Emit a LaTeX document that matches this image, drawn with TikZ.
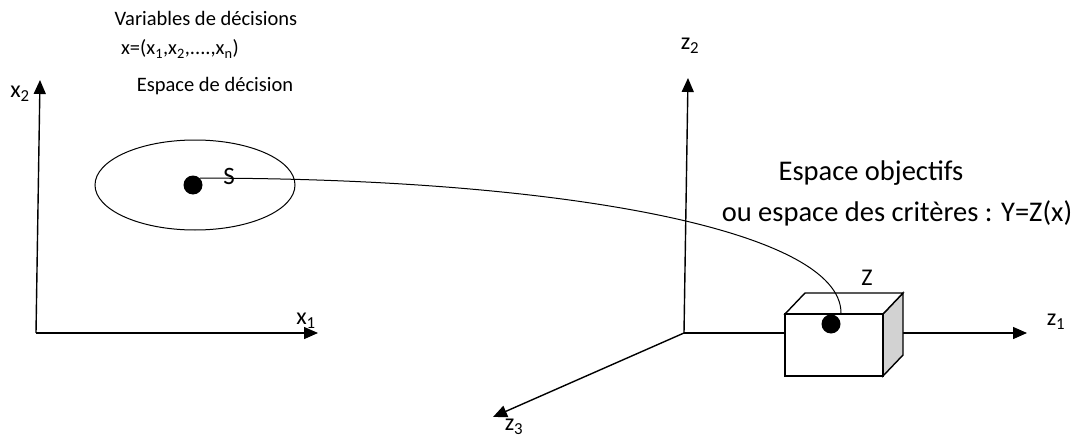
\documentclass[tikz,border=0pt]{standalone}
\usepackage{fontspec}
\setmainfont{Carlito}
\usetikzlibrary{arrows.meta,positioning}
\tikzset{
	axis/.style={line width=1.4pt, -{Triangle[length=14pt,width=12pt]}},
	dot/.style={circle, fill=black, inner sep=0pt, minimum size=19pt},
	lbl/.style={inner sep=0pt, font=\fontsize{28.5}{33}\selectfont},
	axlbl/.style={inner sep=0pt, font=\fontsize{24}{28}\selectfont},
	small/.style={inner sep=0pt, font=\fontsize{20.5}{24}\selectfont}
}
\begin{document}
\begin{tikzpicture}[x=1pt, y=-1pt]
	\useasboundingbox (0,0) rectangle (1088,439);
	% espace de decision
	\coordinate (O1) at (36,333);
	\coordinate (X1) at (318,333);
	\coordinate (X2) at (40,80);
	\draw[axis] (O1) -- (X1);
	\draw[axis] (O1) -- (X2);
	\node[axlbl] (x1lab) at (306,321) {x\textsubscript{1}};
	\node[axlbl] (x2lab) at (20,94) {x\textsubscript{2}};
	\draw[line width=1pt] (195,185) ellipse (100 and 45);
	\node[dot] (sdot) at (193,185) {};
	\node[axlbl, font=\fontsize{25}{30}\selectfont] (slab) at (229,176) {S};
	\node[small] (vars) at (206,18) {Variables de décisions};
	\node[small] (xvec) at (180,49) {x=(x\textsubscript{1},x\textsubscript{2},....,x\textsubscript{n})};
	\node[small] (edec) at (215,86) {Espace de décision};

	% espace objectifs
	\coordinate (O2) at (684,333);
	\coordinate (Z1) at (1027,333);
	\coordinate (Z2) at (688,78);
	\coordinate (Z3) at (493,417);
	\draw[axis] (O2) -- (Z1);
	\draw[axis] (O2) -- (Z2);
	\draw[axis] (O2) -- (Z3);
	\node[axlbl] (z1lab) at (1056,322) {z\textsubscript{1}};
	\node[axlbl] (z2lab) at (690,46) {z\textsubscript{2}};
	\node[axlbl] (z3lab) at (514,427) {z\textsubscript{3}};

	% boite
	\draw[line width=1.4pt, fill=gray!35] (883,314) -- (903,293) -- (903,355) -- (883,376) -- cycle;
	\draw[line width=1.4pt, fill=white] (785,314) -- (805,293) -- (903,293) -- (883,314) -- cycle;
	\draw[line width=1.4pt, fill=white] (785,314) rectangle (883,376);
	\node[dot] (zdot) at (831,324) {};
	\node[axlbl] (zlab) at (867,278) {Z};
	\node[lbl] (eobj) at (871,173) {Espace objectifs};
	\node[lbl] (ecrit) at (897,213) {ou espace des critères : Y=Z(x)};

	% image de S
	\draw[line width=1pt] (sdot.north east) .. controls (560,178) and (841,230) .. (841,313);
\end{tikzpicture}
\end{document}
